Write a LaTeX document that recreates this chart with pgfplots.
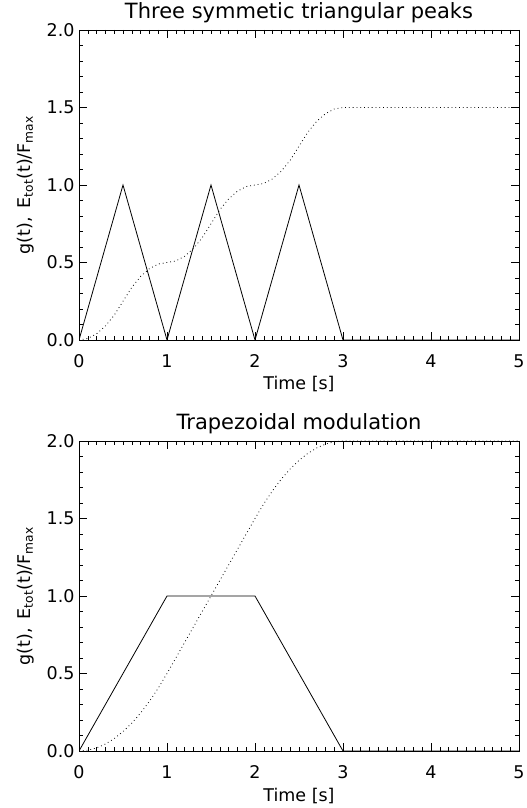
\documentclass[border=0pt]{standalone}
\usepackage{fontspec}
\setmainfont{DejaVu Sans}
\usepackage{pgfplots}
\pgfplotsset{compat=1.18}

\pgfplotsset{
  idlpanel/.style={
    scale only axis,
    width=440pt, height=310pt,
    anchor=south west,
    xmin=0, xmax=5, ymin=0, ymax=2,
    xtick={0,1,2,3,4,5},
    ytick={0,0.5,1,1.5,2},
    minor x tick num=9,
    minor y tick num=4,
    tick align=inside,
    major tick length=8pt,
    minor tick length=4pt,
    axis line style={line width=0.7pt},
    every tick/.style={line width=0.6pt, black},
    /pgf/number format/assume math mode=true,
    yticklabel style={/pgf/number format/fixed, /pgf/number format/fixed zerofill, /pgf/number format/precision=1, xshift=-1pt},
    xticklabel style={/pgf/number format/fixed, /pgf/number format/precision=0, anchor=base, yshift=-27.5pt},
    tick label style={font=\fontsize{17.5}{20}\selectfont},
    label style={font=\fontsize{17.5}{20}\selectfont},
    xlabel style={at={(axis description cs:0.5,0)}, anchor=base, yshift=-50pt},
    ylabel style={at={(axis description cs:-0.111,0.5)}, anchor=base},
    title style={font=\fontsize{21}{24}\selectfont, at={(axis description cs:0.5,1)}, anchor=base, yshift=5.5pt},
    xlabel={Time [s]},
    ylabel={g(t),\enspace E\textsubscript{tot}(t)/F\textsubscript{max}},
  },
  solidg/.style={black, line width=0.8pt},
  dottede/.style={black, line width=0.8pt, dash pattern=on 0.8pt off 3pt},
}

\begin{document}
\begin{tikzpicture}
\path[use as bounding box] (0,0) rectangle (527pt,808pt);

\begin{axis}[idlpanel, at={(79pt,468pt)}, title={Three symmetic triangular peaks}]
\addplot[solidg] coordinates {(0,0) (0.5,1) (1,0) (1.5,1) (2,0) (2.5,1) (3,0) (5,0)};
\addplot[dottede] coordinates {
(0,0) (0.1,0.01) (0.2,0.04) (0.3,0.09) (0.4,0.16) (0.5,0.25)
(0.6,0.34) (0.7,0.41) (0.8,0.46) (0.9,0.49) (1.0,0.5)
(1.1,0.51) (1.2,0.54) (1.3,0.59) (1.4,0.66) (1.5,0.75)
(1.6,0.84) (1.7,0.91) (1.8,0.96) (1.9,0.99) (2.0,1.0)
(2.1,1.01) (2.2,1.04) (2.3,1.09) (2.4,1.16) (2.5,1.25)
(2.6,1.34) (2.7,1.41) (2.8,1.46) (2.9,1.49) (3.0,1.5) (5,1.5)};
\end{axis}

\begin{axis}[idlpanel, at={(79pt,57pt)}, title={Trapezoidal modulation}]
\addplot[solidg] coordinates {(0,0) (1,1) (2,1) (3,0) (5,0)};
\addplot[dottede] coordinates {
(0,0) (0.1,0.005) (0.2,0.02) (0.3,0.045) (0.4,0.08) (0.5,0.125)
(0.6,0.18) (0.7,0.245) (0.8,0.32) (0.9,0.405) (1.0,0.5)
(2.0,1.5)
(2.1,1.595) (2.2,1.68) (2.3,1.755) (2.4,1.82) (2.5,1.875)
(2.6,1.92) (2.7,1.955) (2.8,1.98) (2.9,1.995) (3.0,2.0) (5,2.0)};
\end{axis}
\end{tikzpicture}
\end{document}
